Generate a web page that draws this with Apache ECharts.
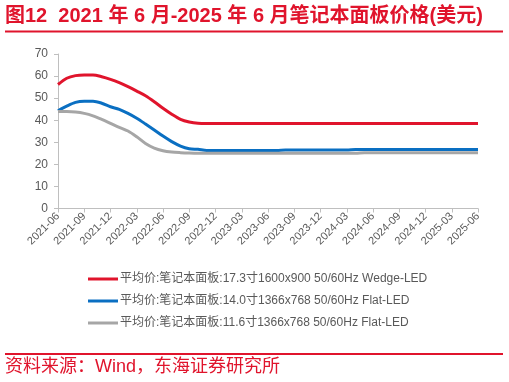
<!DOCTYPE html>
<html><head><meta charset="utf-8">
<script src="https://cdn.jsdelivr.net/npm/echarts@6/dist/echarts.min.js"></script>
<style>html,body{margin:0;padding:0;background:#fff}#c{width:509px;height:382px}</style>
</head><body><div id="c"></div>
<script>
const months = ["2021-06","2021-07","2021-08","2021-09","2021-10","2021-11","2021-12","2022-01","2022-02","2022-03","2022-04","2022-05","2022-06","2022-07","2022-08","2022-09","2022-10","2022-11","2022-12","2023-01","2023-02","2023-03","2023-04","2023-05","2023-06","2023-07","2023-08","2023-09","2023-10","2023-11","2023-12","2024-01","2024-02","2024-03","2024-04","2024-05","2024-06","2024-07","2024-08","2024-09","2024-10","2024-11","2024-12","2025-01","2025-02","2025-03","2025-04","2025-05","2025-06"];
const seriesNames = ["平均价:笔记本面板:17.3寸1600x900 50/60Hz Wedge-LED","平均价:笔记本面板:14.0寸1366x768 50/60Hz Flat-LED","平均价:笔记本面板:11.6寸1366x768 50/60Hz Flat-LED"];
const red = [56.2,59,60.2,60.5,60.5,59.7,58.5,57,55.2,53.2,51.1,48.4,45.4,42.7,40.4,39.2,38.6,
 38.5,38.5,38.5,38.5,38.5,38.5,38.5,38.5,38.5,38.5,38.5,38.5,38.5,38.5,38.5,38.5,
 38.5,38.5,38.5,38.5,38.5,38.5,38.5,38.5,38.5,38.5,38.5,38.5,38.5,38.5,38.5,38.5];
const blue = [44.3,46.4,48.1,48.6,48.6,47.7,46.1,44.9,43.1,40.9,38.3,35.6,32.8,30.3,28.3,27.1,26.8,
 26.3,26.3,26.3,26.3,26.3,26.3,26.3,26.3,26.3,
 26.5,26.5,26.5,26.5,26.5,26.5,26.5,26.5,
 26.7,26.7,26.7,26.7,26.7,26.7,26.7,26.7,26.7,26.7,26.7,26.7,26.7,26.7,26.7];
const gray = [43.9,43.9,43.7,43.1,42,40.4,38.6,36.8,35.1,32.5,29.5,27.4,26.2,25.6,25.3,25.1,25.0,
 25.0,25.0,25.0,25.0,25.0,25.0,25.0,25.0,25.0,25.0,25.0,25.0,25.0,25.0,25.0,25.0,25.0,25.0,
 25.3,25.3,25.3,25.3,25.3,25.3,25.3,25.3,25.3,25.3,25.3,25.3,25.3,25.3];
const colors = ["#E0142C","#0A6FC2","#A6A6A6"];
const chart = echarts.init(document.getElementById('c'));
const FONT = '"Liberation Sans","Noto Sans CJK SC",sans-serif';
chart.setOption({
  animation:false,
  color:colors,
  grid:{left:58,right:31,top:54,bottom:173.5,containLabel:false},
  graphic:[
    {type:'text',left:5,top:6,style:{text:'图12  2021 年 6 月-2025 年 6 月笔记本面板价格(美元)',fill:'#E0142C',font:'bold 20px "Liberation Sans","Noto Sans CJK SC",sans-serif'}},
    {type:'rect',shape:{x:5,y:30.5,width:498,height:2},style:{fill:'#E0142C'}},
    {type:'rect',shape:{x:5,y:353,width:498,height:2},style:{fill:'#E0142C'}},
    {type:'text',left:5,top:358,style:{text:'资料来源：Wind，东海证券研究所',fill:'#E0142C',font:'18px "Liberation Sans","Noto Sans CJK SC",sans-serif'}}
  ],
  legend:{orient:'vertical',left:83,top:267,itemWidth:30,itemHeight:3,itemGap:8,icon:'rect',
    textStyle:{fontSize:12,color:'#595959',fontFamily:FONT,lineHeight:14,padding:[0,0,0,-3]},
    data:seriesNames},
  xAxis:{type:'category',data:months,boundaryGap:false,
    axisLine:{lineStyle:{color:'#BFBFBF'}},
    axisTick:{interval:2,length:4,lineStyle:{color:'#BFBFBF'}},
    axisLabel:{interval:2,rotate:45,fontSize:11,color:'#595959',fontFamily:FONT,margin:6}},
  yAxis:{type:'value',min:0,max:70,interval:10,
    splitLine:{show:false},
    axisLine:{show:true,lineStyle:{color:'#BFBFBF'}},
    axisTick:{show:true,length:4,lineStyle:{color:'#BFBFBF'}},
    axisLabel:{fontSize:12,color:'#595959',fontFamily:FONT,margin:10}},
  series:[
    {name:seriesNames[0],type:'line',data:red,symbol:'none',smooth:0.3,lineStyle:{width:3}},
    {name:seriesNames[1],type:'line',data:blue,symbol:'none',smooth:0.3,lineStyle:{width:3}},
    {name:seriesNames[2],type:'line',data:gray,symbol:'none',smooth:0.3,lineStyle:{width:3}}
  ]
});
</script></body></html>
